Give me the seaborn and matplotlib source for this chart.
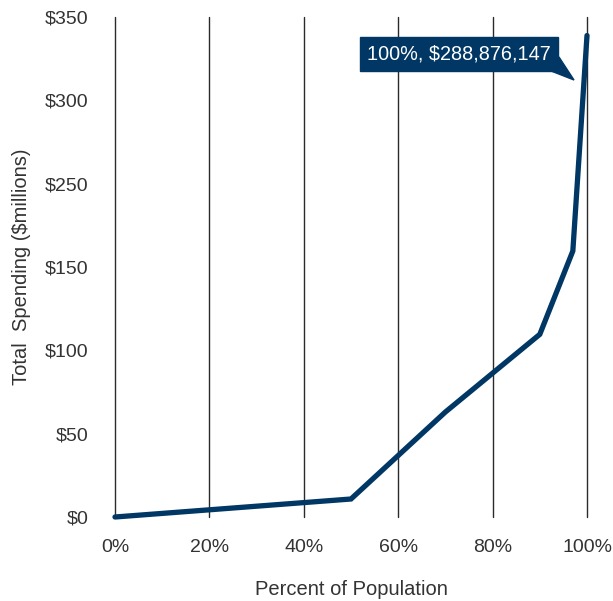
import matplotlib
matplotlib.use("Agg")
import matplotlib.pyplot as plt
from matplotlib.patches import Polygon
import seaborn as sns
import pandas as pd

# Cumulative spending curve
population_pct = [0, 50, 70, 90, 97, 100]
spending_millions = [0, 10.8, 63, 109.6, 159.6, 288.876147]

x_ticks = [0, 20, 40, 60, 80, 100]
x_tick_labels = ["0%", "20%", "40%", "60%", "80%", "100%"]
y_ticks = [0, 50, 100, 150, 200, 250, 300]
y_tick_labels = ["$0", "$50", "$100", "$150", "$250", "$300", "$350"]
callout_text = "100%, $288,876,147"

NAVY = "#003764"
TEXT = "#333333"
W, H = 613, 601

sns.set_theme(style="white")
plt.rcParams["font.family"] = ["Liberation Sans", "DejaVu Sans"]

df = pd.DataFrame({"pct": population_pct, "spend": spending_millions})

fig = plt.figure(figsize=(W / 100, H / 100), dpi=100)
ax = fig.add_axes([115 / W, 1 - 517 / H, 472 / W, 500 / H])

sns.lineplot(data=df, x="pct", y="spend", ax=ax, color=NAVY, linewidth=3.8,
             solid_joinstyle="miter", clip_on=False, zorder=3)

ax.set_xlim(0, 100)
ax.set_ylim(0, 300)
ax.set_xticks(x_ticks)
ax.set_xticklabels(x_tick_labels)
ax.set_yticks(y_ticks)
ax.set_yticklabels(y_tick_labels)

for s in ax.spines.values():
    s.set_visible(False)
ax.grid(False)
for xv in x_ticks:
    ax.axvline(xv, color="#2a2a2a", linewidth=1.0, zorder=1, clip_on=False)

ax.tick_params(axis="both", length=0, labelsize=14, colors=TEXT)
ax.tick_params(axis="y", pad=19)
ax.tick_params(axis="x", pad=16)

ax.set_xlabel("Percent of Population", fontsize=14.5, color=TEXT, labelpad=17)
ax.set_ylabel("Total  Spending ($millions)", fontsize=14.5, color=TEXT, labelpad=10)

# Callout box for the last point, with a small pointer tail
ax.annotate(
    callout_text,
    xy=(population_pct[-1], spending_millions[-1]),
    xytext=(459 / W, 1 - 54 / H), textcoords="figure fraction",
    ha="center", va="center", fontsize=14.3, color="white",
    bbox=dict(boxstyle="square,pad=0.36", fc=NAVY, ec=NAVY),
    zorder=5,
)
tail = Polygon([(546 / W, 1 - 69 / H), (559 / W, 1 - 57 / H), (574 / W, 1 - 80 / H)],
               closed=True, transform=fig.transFigure, fc=NAVY, ec=NAVY, zorder=5)
fig.patches.append(tail)

fig.savefig("out.png", dpi=100)
